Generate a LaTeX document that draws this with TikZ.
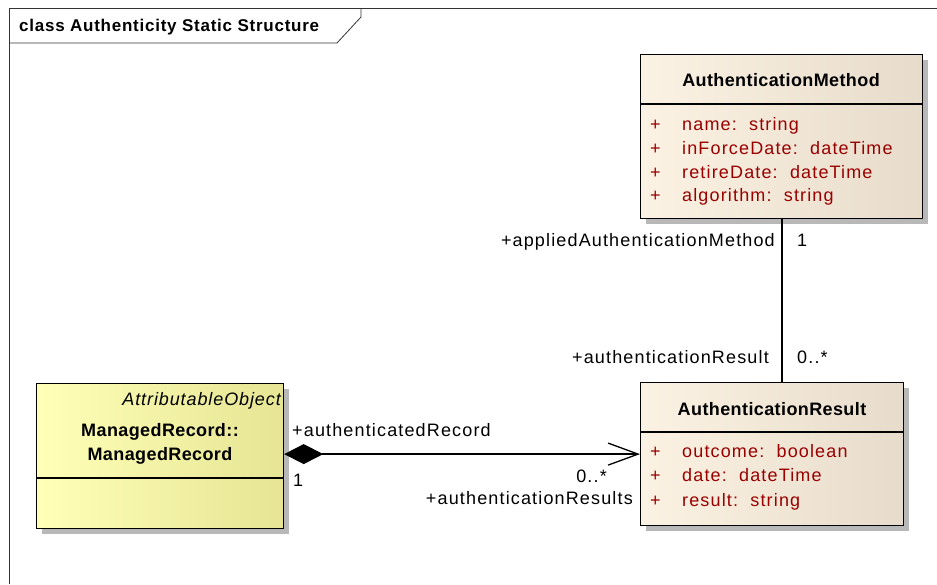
\documentclass[tikz,border=0pt]{standalone}
\usepackage{fontspec}
\setmainfont{Liberation Sans}
\newfontfamily\regf[LetterSpace=6.4]{Liberation Sans}
\newfontfamily\itf[LetterSpace=5]{Liberation Sans}
\newfontfamily\bldf[LetterSpace=2.2]{Liberation Sans}
\newfontfamily\ttlf[LetterSpace=4.4]{Liberation Sans}
\usetikzlibrary{arrows.meta,shadows}
\definecolor{attrred}{HTML}{990000}
\definecolor{tanL}{HTML}{FCF2E3}
\definecolor{tanR}{HTML}{E7DCCB}
\definecolor{yelL}{HTML}{FFFFB8}
\definecolor{yelR}{HTML}{E6E594}
\tikzset{
  umlbox/.style={draw=black, line width=1.2pt, anchor=north west, inner sep=0pt,
    drop shadow={shadow xshift=5pt, shadow yshift=-5pt, fill=black!28, opacity=1}},
  tanbox/.style={umlbox, left color=tanL, right color=tanR},
  yelbox/.style={umlbox, left color=yelL, right color=yelR},
  lbl/.style={font=\regf\fontsize{18}{21}\selectfont, inner sep=0pt},
  attr/.style={lbl, text=attrred, anchor=base west},
  cname/.style={font=\bldf\bfseries\fontsize{18}{21}\selectfont, inner sep=0pt, anchor=base},
  conn/.style={line width=1.3pt, draw=black}
}
\begin{document}
\begin{tikzpicture}[x=1pt,y=-1pt]
\useasboundingbox (0,0) rectangle (937,584);
% frame
\draw[line width=0.8pt, draw=black!80] (9,584) -- (9,8) -- (937,8);
\draw[line width=0.8pt, draw=black!80] (9,43) -- (337,43) -- (361,17) -- (361,8);
\node[font=\ttlf\bfseries\fontsize{17}{20}\selectfont, anchor=base west, inner sep=0pt] (title) at (19,31.7) {class Authenticity Static Structure};

% AuthenticationMethod
\node[tanbox, minimum width=282pt, minimum height=164pt] (am) at (640,54) {};
\draw[line width=1.2pt] (640,104) -- (922,104);
\node[cname] (amt) at (781,86.7) {AuthenticationMethod};
\node[attr] (am1p) at (650,130.7) {+};
\node[attr] (am1) at (682,130.7) {name:\ \ string};
\node[attr] (am2p) at (650,154.4) {+};
\node[attr] (am2) at (682,154.4) {inForceDate:\ \ dateTime};
\node[attr] (am3p) at (650,178.1) {+};
\node[attr] (am3) at (682,178.1) {retireDate:\ \ dateTime};
\node[attr] (am4p) at (650,201.8) {+};
\node[attr] (am4) at (682,201.8) {algorithm:\ \ string};

% AuthenticationResult
\node[tanbox, minimum width=263pt, minimum height=143pt] (ar) at (640,382) {};
\draw[line width=1.2pt] (640,432) -- (903,432);
\node[cname] (art) at (772,415.7) {AuthenticationResult};
\node[attr] (ar1p) at (650,457.3) {+};
\node[attr] (ar1) at (682,457.3) {outcome:\ \ boolean};
\node[attr] (ar2p) at (650,481.7) {+};
\node[attr] (ar2) at (682,481.7) {date:\ \ dateTime};
\node[attr] (ar3p) at (650,506) {+};
\node[attr] (ar3) at (682,506) {result:\ \ string};

% ManagedRecord
\node[yelbox, minimum width=247pt, minimum height=145pt] (mr) at (36,383) {};
\draw[line width=1.2pt] (36,478) -- (283,478);
\node[lbl, font=\itf\itshape\fontsize{18}{21}\selectfont, anchor=base east] (mrs) at (281,405) {AttributableObject};
\node[cname] (mr1) at (160,436.7) {ManagedRecord::};
\node[cname] (mr2) at (160,460.7) {ManagedRecord};

% connectors
\draw[conn] (am.south -| 782,0) -- (ar.north -| 782,0);
\draw[conn, {Diamond[length=39pt,width=20pt]}-{Straight Barb[length=30pt,width=22pt,line width=1.3pt]}]
  (ar.west -| mr.east) -- (ar.west);

% labels
\node[lbl, anchor=base east] (l1) at (775,246.7) {+appliedAuthenticationMethod};
\node[lbl, anchor=base west] (l2) at (797,246.7) {1};
\node[lbl, anchor=base east] (l3) at (769,363) {+authenticationResult};
\node[lbl, anchor=base west] (l4) at (797,363) {0..*};
\node[lbl, anchor=base west] (l5) at (292,436) {+authenticatedRecord};
\node[lbl, anchor=base west] (l6) at (293,486) {1};
\node[lbl, anchor=base east] (l7) at (607,482) {0..*};
\node[lbl, anchor=base east] (l8) at (633,504) {+authenticationResults};
\end{tikzpicture}
\end{document}
